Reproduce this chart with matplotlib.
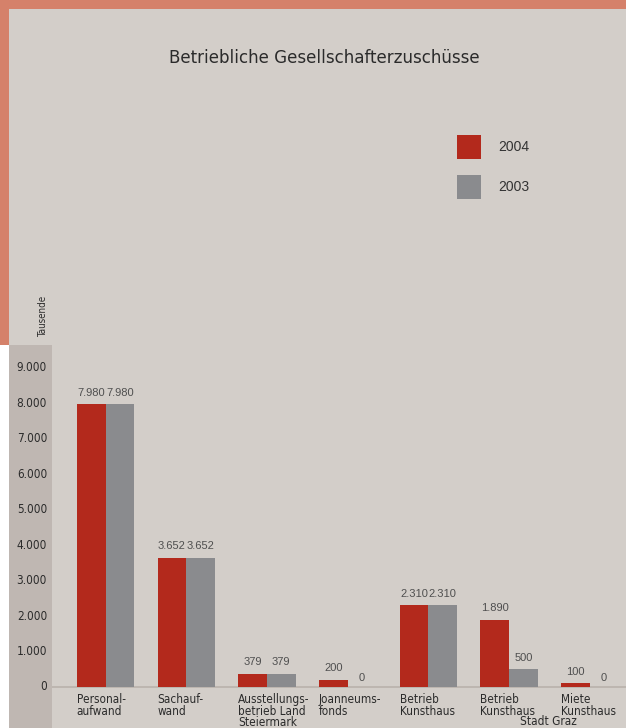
import matplotlib
matplotlib.use("Agg")
import matplotlib.pyplot as plt
from matplotlib.patches import Rectangle
from matplotlib import font_manager

categories = ["Personal-\naufwand", "Sachauf-\nwand", "Ausstellungs-\nbetrieb Land\nSteiermark",
              "Joanneums-\nfonds", "Betrieb\nKunsthaus", "Betrieb\nKunsthaus", "Miete\nKunsthaus"]
extra_label = "Stadt Graz"
values_2004 = [7980, 3652, 379, 200, 2310, 1890, 100]
values_2003 = [7980, 3652, 379, 0, 2310, 500, 0]
value_labels_2004 = ["7.980", "3.652", "379", "200", "2.310", "1.890", "100"]
value_labels_2003 = ["7.980", "3.652", "379", "0", "2.310", "500", "0"]
yticks = [0, 1000, 2000, 3000, 4000, 5000, 6000, 7000, 8000, 9000]
ytick_labels = ["0", "1.000", "2.000", "3.000", "4.000", "5.000", "6.000", "7.000", "8.000", "9.000"]
series_names = ["2004", "2003"]
title = "Betriebliche Gesellschafterzuschüsse"
unit_label = "Tausende"

names = {f.name for f in font_manager.fontManager.ttflist}
NARROW = dict(family="DejaVu Sans", stretch="condensed")
if "Liberation Sans Narrow" in names:
    NARROW = dict(family="Liberation Sans Narrow")
REG = dict(family="Liberation Sans" if "Liberation Sans" in names else "DejaVu Sans")

RED = "#b3291c"
GRAY = "#8a8b8e"
BG = "#d3cec9"
BAND = "#bfb7b2"
SALMON = "#d5816a"
TXT = "#2b2b2b"

W, H = 626, 728
fig = plt.figure(figsize=(W / 100, H / 100), dpi=100)
fig.patch.set_facecolor(BG)

def px(x0, y0, w, h, color):
    fig.add_artist(Rectangle((x0 / W, 1 - (y0 + h) / H), w / W, h / H,
                             transform=fig.transFigure, color=color, lw=0, zorder=0))

px(0, 0, W, 9, SALMON)
px(0, 0, 9, 345, SALMON)
px(0, 345, 9, H - 345, "white")
px(9, 345, 43, H - 345, BAND)

ax = fig.add_axes([52 / W, 0, (W - 52) / W, (H - 345) / H])
ax.set_facecolor("none")
spacing = 80.7
xmin = -(105.5 - 52) / spacing
ax.set_xlim(xmin, xmin + (W - 52) / spacing)
ppk = 35.45
ax.set_ylim(-(H - 687) / ppk * 1000, (687 - 345) / ppk * 1000)
for s in ax.spines.values():
    s.set_visible(False)
ax.set_xticks([])
ax.set_yticks([])

bw = 28.7 / spacing
xs = list(range(len(categories)))
ax.bar([x - bw / 2 for x in xs], values_2004, width=bw, color=RED, zorder=3)
ax.bar([x + bw / 2 for x in xs], values_2003, width=bw, color=GRAY, zorder=3)
ax.axhline(0, color="#b9b2ac", lw=1.2, zorder=2)

def off(v):
    return (9 if v == 0 else 11.5) / ppk * 1000

for x, v, l in zip(xs, values_2004, value_labels_2004):
    ax.text(x - bw / 2, v + off(v), l, ha="center", va="center", fontsize=8,
            color="#4f4f4f", **REG)
for x, v, l in zip(xs, values_2003, value_labels_2003):
    ax.text(x + bw / 2, v + off(v), l, ha="center", va="center", fontsize=8,
            color="#4f4f4f", **REG)

for t, l in zip(yticks, ytick_labels):
    fig.text(47 / W, 1 - (687 - t / 1000 * ppk) / H, l,
             ha="right", va="center", fontsize=8.5, color=TXT, **NARROW)

for x, l in zip(xs, categories):
    ax.text(x - bw, -6 / ppk * 1000, l, ha="left", va="top", fontsize=8.5,
            color=TXT, linespacing=0.86, **NARROW)
ax.text(5 + bw + 11 / spacing, -28 / ppk * 1000, extra_label, ha="center", va="top",
        fontsize=8.5, color=TXT, **NARROW)

fig.text(324 / W, 1 - 58 / H, title, ha="center", va="center", fontsize=13.3,
         color=TXT, **NARROW)
fig.text(43 / W, 1 - 316 / H, unit_label, ha="center", va="center", rotation=90,
         fontsize=7, color=TXT, **NARROW)

for i, (name, c) in enumerate(zip(series_names, [RED, GRAY])):
    y0 = 135 + 40 * i
    px(457, y0, 24, 24, c)
    fig.text(498 / W, 1 - (y0 + 12) / H, name, ha="left", va="center", fontsize=10,
             color="#333333", **REG)

fig.savefig("out.png", dpi=100, facecolor=fig.get_facecolor())
